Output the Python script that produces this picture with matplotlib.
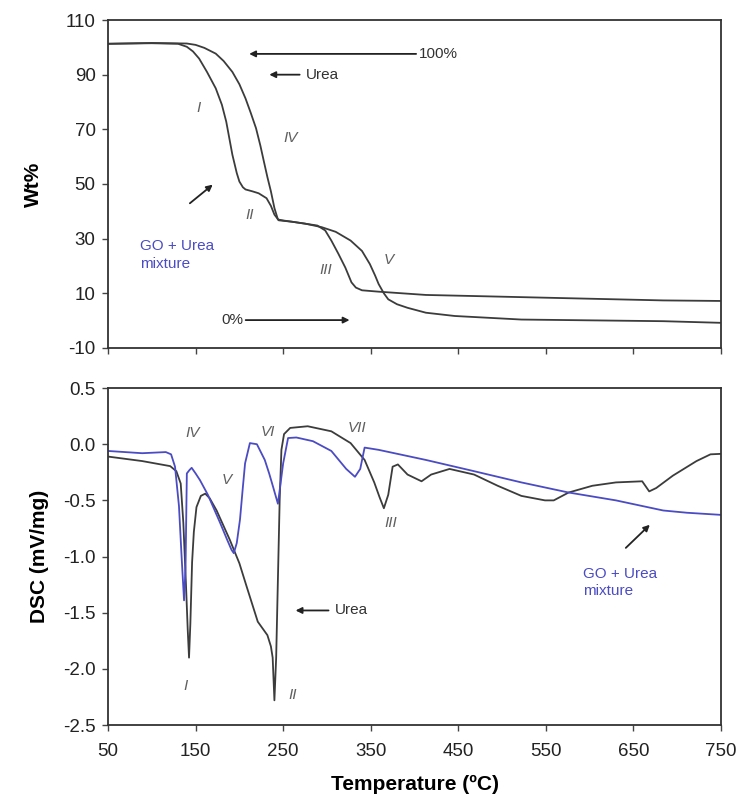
import matplotlib

matplotlib.use("Agg")

import matplotlib.pyplot as plt

plt.rcParams["font.family"] = ["Liberation Sans", "DejaVu Sans"]
plt.rcParams["axes.unicode_minus"] = False

# ── TGA (top panel) ──
tga_mix_t = [50, 100, 130, 140, 147, 154, 163, 173, 180, 185, 192, 197, 200, 204, 207,
             215, 222, 231, 236, 240, 245, 260, 289, 298, 305, 313, 321, 328, 333,
             340, 359, 413, 468, 576, 684, 750]
tga_mix_w = [101.3, 101.5, 101.3, 100.2, 98.5, 95.9, 91.0, 85.0, 79.0, 72.8, 60.7,
             54.0, 50.9, 48.8, 48.0, 47.3, 46.6, 44.8, 42.0, 38.8, 36.7, 36.2, 34.8,
             33.0, 29.3, 24.5, 19.4, 14.0, 12.1, 11.1, 10.6, 9.4, 9.0, 8.2, 7.4, 7.2]

tga_urea_t = [50, 100, 140, 150, 160, 173, 182, 192, 200, 207, 213, 219, 224, 228,
              232, 236, 240, 244, 251, 275, 294, 310, 327, 340, 349, 355, 359, 365,
              370, 380, 392, 413, 446, 522, 684, 750]
tga_urea_w = [101.3, 101.6, 101.4, 100.9, 99.8, 97.7, 95.0, 91.0, 86.5, 81.3, 76.0,
              70.4, 64.0, 58.2, 52.5, 47.3, 41.2, 37.0, 36.6, 35.5, 34.2, 32.5, 29.3,
              25.5, 20.7, 16.5, 13.4, 10.0, 7.8, 6.0, 4.7, 2.9, 1.7, 0.4, -0.2, -0.8]

# ── DSC (bottom panel) ──
dsc_urea_t = [50, 89, 121, 128, 133, 136, 139, 141, 142.5, 144, 146, 148, 151, 156,
              161, 166, 174, 189, 200, 208, 221, 232, 236, 238, 240, 242, 244, 246,
              248, 251, 258, 278, 305, 327, 343, 354, 360, 365, 370, 375, 381, 392,
              408, 419, 440, 468, 495, 522, 549, 559, 576, 603, 630, 660, 668, 676,
              695, 722, 738, 752]
dsc_urea_v = [-0.11, -0.15, -0.195, -0.24, -0.35, -0.7, -1.25, -1.65, -1.9, -1.6,
              -1.05, -0.78, -0.56, -0.46, -0.44, -0.48, -0.59, -0.85, -1.06, -1.26,
              -1.58, -1.70, -1.80, -1.90, -2.28, -1.9, -1.2, -0.5, -0.05, 0.09, 0.145,
              0.16, 0.115, 0.01, -0.14, -0.34, -0.47, -0.57, -0.45, -0.20, -0.18,
              -0.27, -0.33, -0.27, -0.22, -0.27, -0.37, -0.46, -0.50, -0.50, -0.43,
              -0.37, -0.34, -0.33, -0.42, -0.39, -0.28, -0.15, -0.09, -0.085]

dsc_mix_t = [50, 89, 116, 122, 126.5, 131, 134, 136.8, 138.5, 140, 143, 145.5, 150,
             155, 164, 178, 186, 191, 193.6, 197, 200.7, 204, 206.5, 212, 220, 229,
             234, 238.5, 244, 247, 250, 255.6, 265, 284, 305, 322, 332, 338, 343,
             359, 413, 468, 522, 576, 630, 684, 711, 752]
dsc_mix_v = [-0.06, -0.08, -0.07, -0.09, -0.2, -0.55, -1.0, -1.39, -1.1, -0.26,
             -0.23, -0.21, -0.26, -0.32, -0.45, -0.70, -0.85, -0.94, -0.97, -0.88,
             -0.67, -0.38, -0.17, 0.01, 0.0, -0.14, -0.26, -0.38, -0.53, -0.35,
             -0.17, 0.055, 0.06, 0.027, -0.06, -0.22, -0.29, -0.22, -0.03, -0.05,
             -0.14, -0.24, -0.34, -0.43, -0.50, -0.59, -0.61, -0.63]

x_ticks = [50, 150, 250, 350, 450, 550, 650, 750]
tga_ticks = [-10, 10, 30, 50, 70, 90, 110]
dsc_ticks = [0.5, 0.0, -0.5, -1.0, -1.5, -2.0, -2.5]

GREY = "#3c3c3c"
BLUE = "#4b4bc4"
NUM = "#606060"

fig = plt.figure(figsize=(7.43, 7.97), dpi=100)
ax1 = fig.add_axes([0.1454, 0.5634, 0.825, 0.4115])
ax2 = fig.add_axes([0.1454, 0.0903, 0.825, 0.4228])

for ax in (ax1, ax2):
    for s in ax.spines.values():
        s.set_color("#333333")
        s.set_linewidth(1.3)
    ax.tick_params(direction="out", length=4, width=1.0, color="#444444",
                   labelsize=13.5, labelcolor="#222222")
    ax.tick_params(axis="y", pad=5)
    ax.tick_params(axis="x", pad=9)
    ax.set_xlim(50, 750)
    ax.set_xticks(x_ticks)

ax1.plot(tga_mix_t, tga_mix_w, color=GREY, lw=1.3)
ax1.plot(tga_urea_t, tga_urea_w, color=GREY, lw=1.3)
ax1.set_ylim(-10, 110)
ax1.set_yticks(tga_ticks)
ax1.set_xticklabels([])
ax1.set_ylabel("Wt%", fontsize=15, fontweight="bold", labelpad=16)

arr = dict(arrowstyle="-|>", color="#222222", lw=1.3, mutation_scale=9)
ax1.annotate("", xy=(208, 97.6), xytext=(405, 97.6), arrowprops=arr)
ax1.text(405, 97.6, "100%", fontsize=11, color="#333333", va="center")
ax1.annotate("", xy=(231, 90), xytext=(272, 90), arrowprops=arr)
ax1.text(276, 90, "Urea", fontsize=11, color="#333333", va="center")
ax1.annotate("", xy=(329, 0.2), xytext=(204, 0.2), arrowprops=arr)
ax1.text(204, 0.2, "0%", fontsize=11, color="#333333", va="center", ha="right")
ax1.annotate("", xy=(172, 50.4), xytext=(141, 42.3), arrowprops=arr)
ax1.text(87, 24, "GO + Urea\nmixture", fontsize=11, color=BLUE, va="center",
         linespacing=1.3)
for label, t, w in [("I", 153, 77.8), ("IV", 258, 66.8), ("II", 212, 38.7),
                    ("III", 299, 18.5), ("V", 371, 22.2)]:
    ax1.text(t, w, label, fontsize=11, style="italic", color=NUM,
             ha="center", va="center")

ax2.plot(dsc_urea_t, dsc_urea_v, color=GREY, lw=1.3)
ax2.plot(dsc_mix_t, dsc_mix_v, color=BLUE, lw=1.3)
ax2.set_ylim(-2.5, 0.5)
ax2.set_yticks(dsc_ticks)
ax2.set_yticklabels([f"{v:.1f}" for v in dsc_ticks])
ax2.set_ylabel("DSC (mV/mg)", fontsize=15, fontweight="bold", labelpad=10)
ax2.set_xlabel("Temperature (ºC)", fontsize=15, fontweight="bold", labelpad=11)

ax2.annotate("", xy=(261, -1.48), xytext=(305, -1.48), arrowprops=arr)
ax2.text(309, -1.48, "Urea", fontsize=11, color="#333333", va="center")
ax2.annotate("", xy=(671, -0.70), xytext=(639, -0.94), arrowprops=arr)
ax2.text(592, -1.23, "GO + Urea\nmixture", fontsize=11, color=BLUE, va="center",
         linespacing=1.3)
for label, t, v in [("IV", 147, 0.1), ("V", 186, -0.32), ("VI", 232, 0.11),
                    ("VII", 334, 0.14), ("I", 139, -2.15), ("II", 261, -2.23),
                    ("III", 373, -0.70)]:
    ax2.text(t, v, label, fontsize=11, style="italic", color=NUM,
             ha="center", va="center")

fig.savefig("out.png", dpi=100)
